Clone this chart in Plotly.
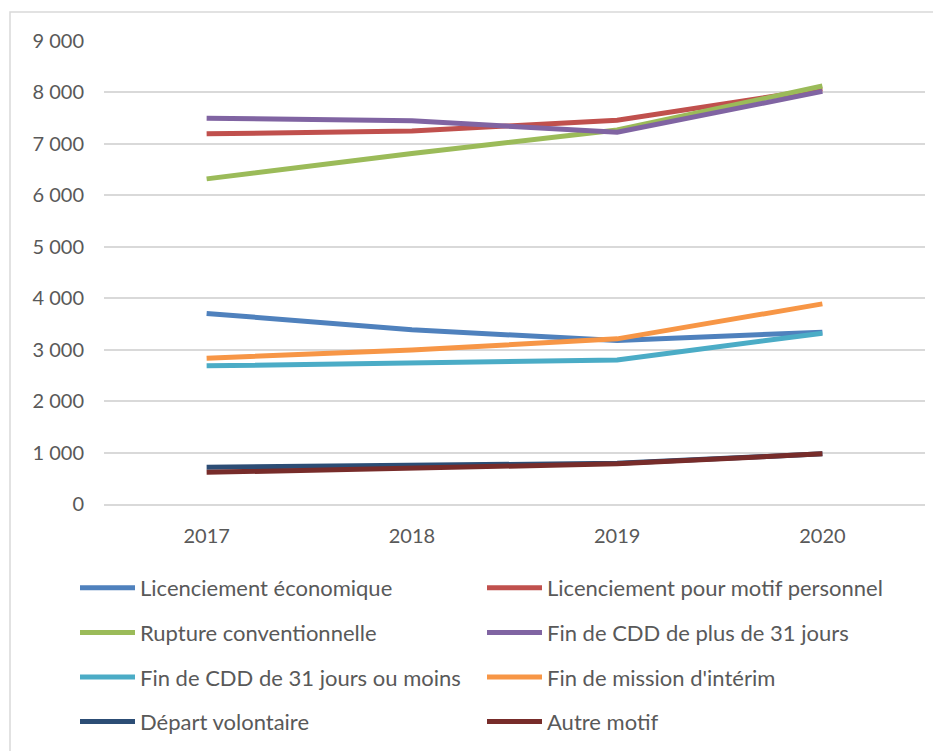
import plotly.graph_objects as go

years = ["2017", "2018", "2019", "2020"]

licenciement_eco = [3705, 3385, 3180, 3340]
licenciement_perso = [7195, 7250, 7460, 8070]
rupture_conv = [6320, 6815, 7270, 8125]
fin_cdd_plus31 = [7500, 7450, 7225, 8020]
fin_cdd_moins31 = [2685, 2735, 2800, 3320]
fin_interim = [2835, 2995, 3210, 3890]
depart_volontaire = [715, 755, 790, 975]
autre_motif = [615, 690, 780, 975]

series = [
    ("Licenciement économique", licenciement_eco, "#4F81BD", "legend"),
    ("Licenciement pour motif personnel", licenciement_perso, "#C0504D", "legend2"),
    ("Rupture conventionnelle", rupture_conv, "#9BBB59", "legend"),
    ("Fin de CDD de plus de 31 jours", fin_cdd_plus31, "#8064A2", "legend2"),
    ("Fin de CDD de 31 jours ou moins", fin_cdd_moins31, "#4BACC6", "legend"),
    ("Fin de mission d'intérim", fin_interim, "#F79646", "legend2"),
    ("Départ volontaire", depart_volontaire, "#2C4D75", "legend"),
    ("Autre motif", autre_motif, "#772C2A", "legend2"),
]

FONT = "Lato"
TXT = "#595959"

fig = go.Figure()
for i, (name, vals, color, leg) in enumerate(series):
    fig.add_trace(go.Scatter(
        x=years, y=vals, name=name, mode="lines",
        line=dict(color=color, width=5),
        legend=leg, legendgroup=f"g{i}",
    ))

# figure coordinates (page body adds ~8px offset)
W, H = 941, 751
L, T = 96, 33
PR, PB = 917, 496
R, B = W - PR, H - PB
pw = PR - L
ph = PB - T

def px_x(x):
    return (x - L) / pw

def px_y(y):
    return (PB - y) / ph

legend_common = dict(
    orientation="v", traceorder="grouped", tracegroupgap=13,
    font=dict(family=FONT, size=22, color=TXT),
    bgcolor="rgba(0,0,0,0)", itemwidth=55, yanchor="top", xanchor="left",
)

fig.update_layout(
    width=W, height=H,
    margin=dict(l=L, r=R, t=T, b=B),
    paper_bgcolor="white", plot_bgcolor="white",
    separators=", ",
    font=dict(family=FONT, size=20, color=TXT),
    showlegend=True,
    legend=dict(x=px_x(67), y=px_y(559), **legend_common),
    legend2=dict(x=px_x(474), y=px_y(559), **legend_common),
    xaxis=dict(
        type="category", range=[-0.5, 3.5],
        showgrid=False, showline=True, linecolor="#d9d9d9", linewidth=1.5,
        ticks="", tickfont=dict(family=FONT, size=20, color=TXT),
        ticklabelstandoff=13, zeroline=False,
    ),
    yaxis=dict(
        range=[0, 9000], dtick=1000, tickformat=",d",
        showgrid=True, gridcolor="#d9d9d9", gridwidth=1.5,
        zeroline=False, showline=False, ticks="",
        tickfont=dict(family=FONT, size=20, color=TXT),
        ticklabelstandoff=19,
    ),
    shapes=[dict(
        type="rect", xref="paper", yref="paper",
        x0=px_x(2), x1=px_x(980), y0=px_y(800), y1=px_y(4),
        line=dict(color="#d9d9d9", width=1.5), fillcolor="rgba(0,0,0,0)",
        layer="below",
    )],
)

fig.write_html("out.html")
